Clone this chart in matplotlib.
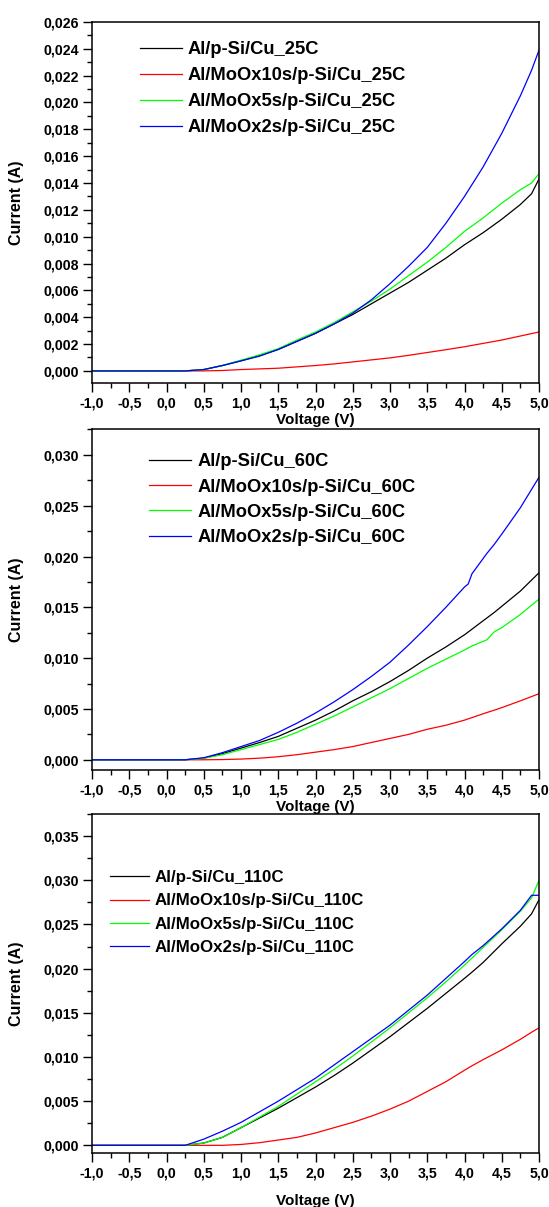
import matplotlib
matplotlib.use('Agg')
import matplotlib.pyplot as plt
from matplotlib.ticker import MultipleLocator, FuncFormatter

plt.rcParams['font.family'] = ['Liberation Sans', 'DejaVu Sans']
plt.rcParams['font.weight'] = 'bold'

# ---- data ----
v25 = [-1.0, -0.5, 0.0, 0.25, 0.5, 0.75, 1.0, 1.25, 1.5, 1.75, 2.0, 2.25, 2.5,
       2.75, 3.0, 3.25, 3.5, 3.75, 4.0, 4.25, 4.5, 4.75, 4.9, 5.0]
i25_ref = [0, 0, 0, 0, 0.0001, 0.0004, 0.00075, 0.00115, 0.0016, 0.0022, 0.0028, 0.0035, 0.0042,
           0.0050, 0.0058, 0.0066, 0.0075, 0.0084, 0.0094, 0.0103, 0.0113, 0.0124, 0.0132, 0.0143]
i25_10s = [0, 0, 0, 0, 0, 0.00003, 0.0001, 0.00015, 0.0002, 0.0003, 0.0004, 0.00052, 0.00067,
           0.00082, 0.00097, 0.00116, 0.00137, 0.00158, 0.0018, 0.00205, 0.0023, 0.0026, 0.00278, 0.0029]
i25_5s = [0, 0, 0, 0, 0.0001, 0.0004, 0.0008, 0.0012, 0.00166, 0.0023, 0.0029, 0.0036, 0.0044,
          0.0052, 0.0061, 0.0071, 0.0081, 0.0092, 0.0104, 0.0114, 0.0125, 0.0135, 0.0140, 0.0147]
i25_2s = [0, 0, 0, 0, 0.0001, 0.0004, 0.00075, 0.0011, 0.0016, 0.0022, 0.0028, 0.0035, 0.0043,
          0.0053, 0.0065, 0.0078, 0.0092, 0.0110, 0.0130, 0.0152, 0.0177, 0.0205, 0.0224, 0.0239]

v60 = [-1.0, -0.5, 0.0, 0.25, 0.5, 0.75, 1.0, 1.25, 1.5, 1.75, 2.0, 2.25, 2.5, 2.75, 3.0,
       3.25, 3.5, 3.75, 4.0, 4.05, 4.1, 4.2, 4.3, 4.4, 4.5, 4.75, 5.0]
i60_ref = [0, 0, 0, 0, 0.00016, 0.0006, 0.00115, 0.0017, 0.0023, 0.0031, 0.0039, 0.0048, 0.0058, 0.0067,
           0.0077, 0.0088, 0.0100, 0.0111, 0.0123, 0.01257, 0.01285, 0.0134, 0.01395, 0.0145, 0.0151, 0.0166, 0.0184]
i60_10s = [0, 0, 0, 0, 0, 0.00002, 0.00007, 0.00016, 0.0003, 0.0005, 0.00075, 0.001, 0.0013, 0.0017,
           0.0021, 0.0025, 0.0030, 0.0034, 0.0039, 0.00403, 0.00415, 0.0044, 0.00465, 0.00488, 0.00513, 0.0058, 0.0065]
i60_5s = [0, 0, 0, 0, 0.00014, 0.0005, 0.0010, 0.0015, 0.0020, 0.0027, 0.0035, 0.0043, 0.0052, 0.0061,
          0.0070, 0.0080, 0.0090, 0.0099, 0.0108, 0.0110, 0.0112, 0.0115, 0.0118, 0.0126, 0.0130, 0.0143, 0.0158]
i60_2s = [0, 0, 0, 0, 0.0002, 0.0007, 0.0013, 0.0019, 0.0027, 0.0036, 0.0046, 0.0057, 0.0069, 0.0082,
          0.0096, 0.0113, 0.0131, 0.0150, 0.0170, 0.0173, 0.0183, 0.0193, 0.0203, 0.0212, 0.0222, 0.0248, 0.0278]

v110 = [-1.0, -0.5, 0.0, 0.25, 0.5, 0.75, 1.0, 1.25, 1.5, 1.75, 2.0, 2.25, 2.5, 2.75, 3.0,
        3.25, 3.5, 3.75, 4.0, 4.1, 4.25, 4.5, 4.75, 4.9, 5.0]
i110_ref = [0, 0, 0, 0, 0.00026, 0.0009, 0.002, 0.0031, 0.0042, 0.0054, 0.0066, 0.0079, 0.0093, 0.0108,
            0.0123, 0.0139, 0.0155, 0.0172, 0.0189, 0.0196, 0.0207, 0.0228, 0.0248, 0.0262, 0.0278]
i110_10s = [0, 0, 0, 0, 0, 0, 0.0001, 0.0003, 0.0006, 0.0009, 0.0014, 0.0020, 0.0026, 0.0033,
            0.0041, 0.0050, 0.0061, 0.0072, 0.0085, 0.0090, 0.0097, 0.0108, 0.0120, 0.0128, 0.0133]
i110_5s = [0, 0, 0, 0, 0.00026, 0.0009, 0.002, 0.0032, 0.0044, 0.0058, 0.0072, 0.0086, 0.0101, 0.0117,
           0.0133, 0.0150, 0.0167, 0.0185, 0.0204, 0.0212, 0.0224, 0.0244, 0.0265, 0.0280, 0.0300]
i110_2s = [0, 0, 0, 0, 0.0007, 0.0016, 0.0026, 0.0038, 0.0050, 0.0063, 0.0076, 0.0091, 0.0106, 0.0121,
           0.0136, 0.0153, 0.0170, 0.0189, 0.0208, 0.0216, 0.0226, 0.0245, 0.0266, 0.0283, 0.0283]

temps = ['25C', '60C', '110C']
names = ['Al/p-Si/Cu_', 'Al/MoOx10s/p-Si/Cu_', 'Al/MoOx5s/p-Si/Cu_', 'Al/MoOx2s/p-Si/Cu_']
colors = ['#000000', '#ff0000', '#00ff00', '#0000ff']

panels = [
    (v25, [i25_ref, i25_10s, i25_5s, i25_2s]),
    (v60, [i60_ref, i60_10s, i60_5s, i60_2s]),
    (v110, [i110_ref, i110_10s, i110_5s, i110_2s]),
]

fig = plt.figure(figsize=(5.49, 12.07), dpi=100)

# axes boxes, ylimits, ytick steps, legend setup, xlabel pad
rects = [[0.1676, 0.6827, 0.8142, 0.2991],
         [0.1676, 0.3621, 0.8142, 0.2821],
         [0.1676, 0.0445, 0.8142, 0.2811]]
ylims = [(-0.0009, 0.026), (-0.001, 0.0325), (-0.0009, 0.0375)]
ysteps = [0.002, 0.005, 0.005]
leg_pos = [(0.107, 0.946), (0.128, 0.930), (0.040, 0.835)]
leg_fs = [13.2, 13.2, 12.2]
leg_sp = [0.49, 0.45, 0.50]
xpads = [2, 2, 9.5]

fmt_x = FuncFormatter(lambda x, p: ('%.1f' % x).replace('.', ','))
fmt_y = FuncFormatter(lambda y, p: ('%.3f' % y).replace('.', ','))

for k, (v, series) in enumerate(panels):
    ax = fig.add_axes(rects[k])
    for s, ys in enumerate(series):
        ax.plot(v, ys, color=colors[s], lw=0.9, label=names[s] + temps[k])
    ax.set_xlim(-1.0, 5.0)
    ax.set_ylim(*ylims[k])
    ax.xaxis.set_major_locator(MultipleLocator(0.5))
    ax.xaxis.set_minor_locator(MultipleLocator(0.25))
    ax.yaxis.set_major_locator(MultipleLocator(ysteps[k]))
    ax.yaxis.set_minor_locator(MultipleLocator(ysteps[k] / 2))
    ax.xaxis.set_major_formatter(fmt_x)
    ax.yaxis.set_major_formatter(fmt_y)
    ax.tick_params(which='major', direction='out', length=6.5, width=1, labelsize=10.2, pad=3)
    ax.tick_params(which='minor', direction='out', length=3.5, width=1)
    for sp in ax.spines.values():
        sp.set_linewidth(1.1)
    ax.set_xlabel('Voltage (V)', fontsize=11, fontweight='bold', labelpad=xpads[k])
    ax.set_ylabel('Current (A)', fontsize=11.5, fontweight='bold')
    ax.yaxis.set_label_coords(-0.152, 0.5)
    ax.legend(loc='upper left', bbox_to_anchor=leg_pos[k], frameon=False,
              prop={'weight': 'bold', 'size': leg_fs[k]}, borderpad=0, borderaxespad=0,
              handlelength=2.3, handletextpad=0.32, labelspacing=leg_sp[k])

fig.savefig('out.png', dpi=100)
